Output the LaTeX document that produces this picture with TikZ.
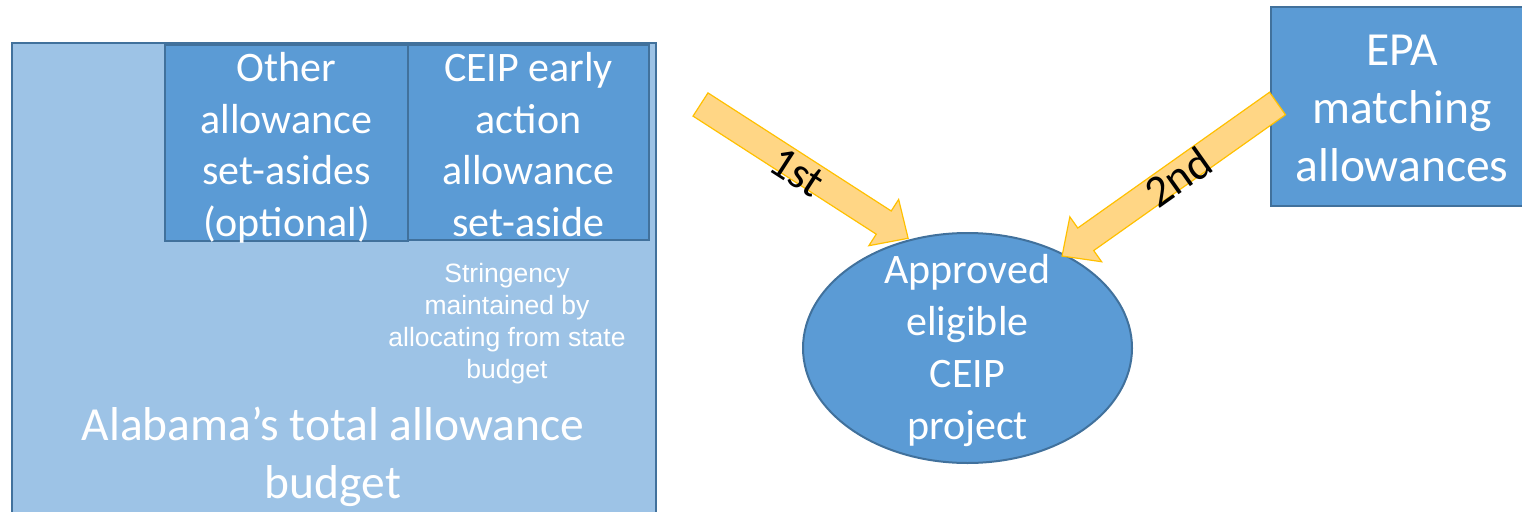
\documentclass[tikz,border=0pt]{standalone}
\usepackage{fontspec}
\setmainfont{Carlito}
\newfontfamily\arialfont{Liberation Sans}
\definecolor{lightfill}{HTML}{9DC3E6}
\definecolor{boxfill}{HTML}{5B9BD5}
\definecolor{boxline}{HTML}{41719C}
\definecolor{arrfill}{HTML}{FFD685}
\definecolor{arrline}{HTML}{FFC000}
\tikzset{
  bigtext/.style={text=white, align=center, font=\fontsize{47.5}{58}\selectfont},
  midtext/.style={text=white, align=center, font=\fontsize{42}{51.5}\selectfont},
  smalltext/.style={text=white, align=center, font=\arialfont\fontsize{26.5}{32}\selectfont},
  blockbox/.style={fill=boxfill, draw=boxline, line width=2pt},
  blockarrow/.style={fill=arrfill, draw=arrline, line width=1.2pt, line join=miter},
  arrlabel/.style={text=black, font=\fontsize{45}{54}\selectfont}
}
\begin{document}
\begin{tikzpicture}[x=1pt, y=-1pt]
\useasboundingbox (0,0) rectangle (1522,511);
% big budget box
\draw[fill=lightfill, draw=boxline, line width=2pt] (12,43) rectangle (656,520);
\draw[blockbox] (165,45) rectangle (408,241);
\draw[blockbox] (408,45) rectangle (649,240);
\node[midtext] (other) at (286.5,148) {Other\\allowance\\set-asides\\(optional)};
\node[midtext] (early) at (528.5,144.5) {CEIP early\\action\\allowance\\set-aside};
\node[smalltext] (string) at (507,324) {Stringency\\maintained by\\allocating from state\\budget};
\node[bigtext] (total) at (333,457) {Alabama’s total allowance\\budget};
% EPA box
\draw[blockbox] (1271,7) rectangle (1533,206);
\node[bigtext] (epa) at (1402,108.5) {EPA\\matching\\allowances};
% ellipse
\draw[blockbox] (967.5,348) ellipse [x radius=164.5, y radius=115];
\node[midtext, font=\fontsize{42}{52}\selectfont] (proj) at (967.5,351) {Approved\\eligible\\CEIP\\project};
% arrow 1
\begin{scope}[shift={(700.5,104.5)}, rotate=-32.8]
\draw[blockarrow] (0,-13.8) -- (218,-13.8) -- (218,-27.5) -- (247,0) -- (218,27.5) -- (218,13.8) -- (0,13.8) -- cycle;
\end{scope}
\node[arrlabel, rotate=-32.8] (first) at (797,172) {1st};
% arrow 2
\begin{scope}[shift={(1277.5,103.5)}, rotate=-144.7]
\draw[blockarrow] (0,-13.8) -- (235,-13.8) -- (235,-27.5) -- (264,0) -- (235,27.5) -- (235,13.8) -- (0,13.8) -- cycle;
\end{scope}
\node[arrlabel, rotate=35.3] (second) at (1178,177) {2nd};
\end{tikzpicture}
\end{document}
